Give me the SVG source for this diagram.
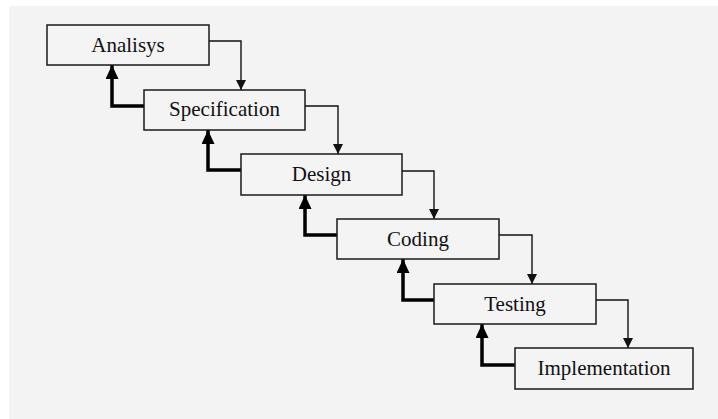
<svg xmlns="http://www.w3.org/2000/svg" width="718" height="419" viewBox="0 0 718 419">
<style>
.box{fill:#f4f4f4;stroke:#1a1a1a;stroke-width:1.5}
.lbl{font-family:"Liberation Serif","Times New Roman",serif;font-size:21px;fill:#111;text-anchor:middle}
.fwd{fill:none;stroke:#111;stroke-width:1.4}
.back{fill:none;stroke:#000;stroke-width:3.5}
</style>
<defs>
<marker id="ah" markerUnits="userSpaceOnUse" markerWidth="10" markerHeight="10" refX="10" refY="5" orient="auto">
<path d="M0,0 L10,5 L0,10 Z" fill="#111"/>
</marker>
<marker id="bh" markerUnits="userSpaceOnUse" markerWidth="14" markerHeight="13" refX="14" refY="6.5" orient="auto">
<path d="M0,0 L14,6.5 L0,13 Z" fill="#000"/>
</marker>
</defs>
<rect x="0" y="0" width="718" height="419" fill="#ffffff"/>
<rect x="9" y="6" width="709" height="413" fill="#f3f3f3"/>
<g id="connectors">
<polyline class="fwd" points="209,41 241,41 241,90" marker-end="url(#ah)"/>
<polyline class="fwd" points="305,106 338,106 338,154" marker-end="url(#ah)"/>
<polyline class="fwd" points="402,171 434,171 434,219" marker-end="url(#ah)"/>
<polyline class="fwd" points="499,235 532,235 532,284" marker-end="url(#ah)"/>
<polyline class="fwd" points="596,300 628,300 628,348" marker-end="url(#ah)"/>
<polyline class="back" points="144,106 112,106 112,65" marker-end="url(#bh)"/>
<polyline class="back" points="241,170 208,170 208,130" marker-end="url(#bh)"/>
<polyline class="back" points="337,235 305,235 305,195" marker-end="url(#bh)"/>
<polyline class="back" points="434,300 403,300 403,259" marker-end="url(#bh)"/>
<polyline class="back" points="515,365 482,365 482,324" marker-end="url(#bh)"/>
</g>
<g id="analisys"><rect class="box" x="47" y="25" width="162" height="40"/><text class="lbl" x="128" y="52">Analisys</text></g>
<g id="specification"><rect class="box" x="144" y="90" width="161" height="40"/><text class="lbl" x="224.5" y="116">Specification</text></g>
<g id="design"><rect class="box" x="241" y="154" width="161" height="41"/><text class="lbl" x="321.5" y="181">Design</text></g>
<g id="coding"><rect class="box" x="337" y="219" width="162" height="40"/><text class="lbl" x="418" y="246">Coding</text></g>
<g id="testing"><rect class="box" x="434" y="284" width="162" height="40"/><text class="lbl" x="515" y="311">Testing</text></g>
<g id="implementation"><rect class="box" x="515" y="348" width="178" height="41"/><text class="lbl" x="604" y="375">Implementation</text></g>
</svg>
